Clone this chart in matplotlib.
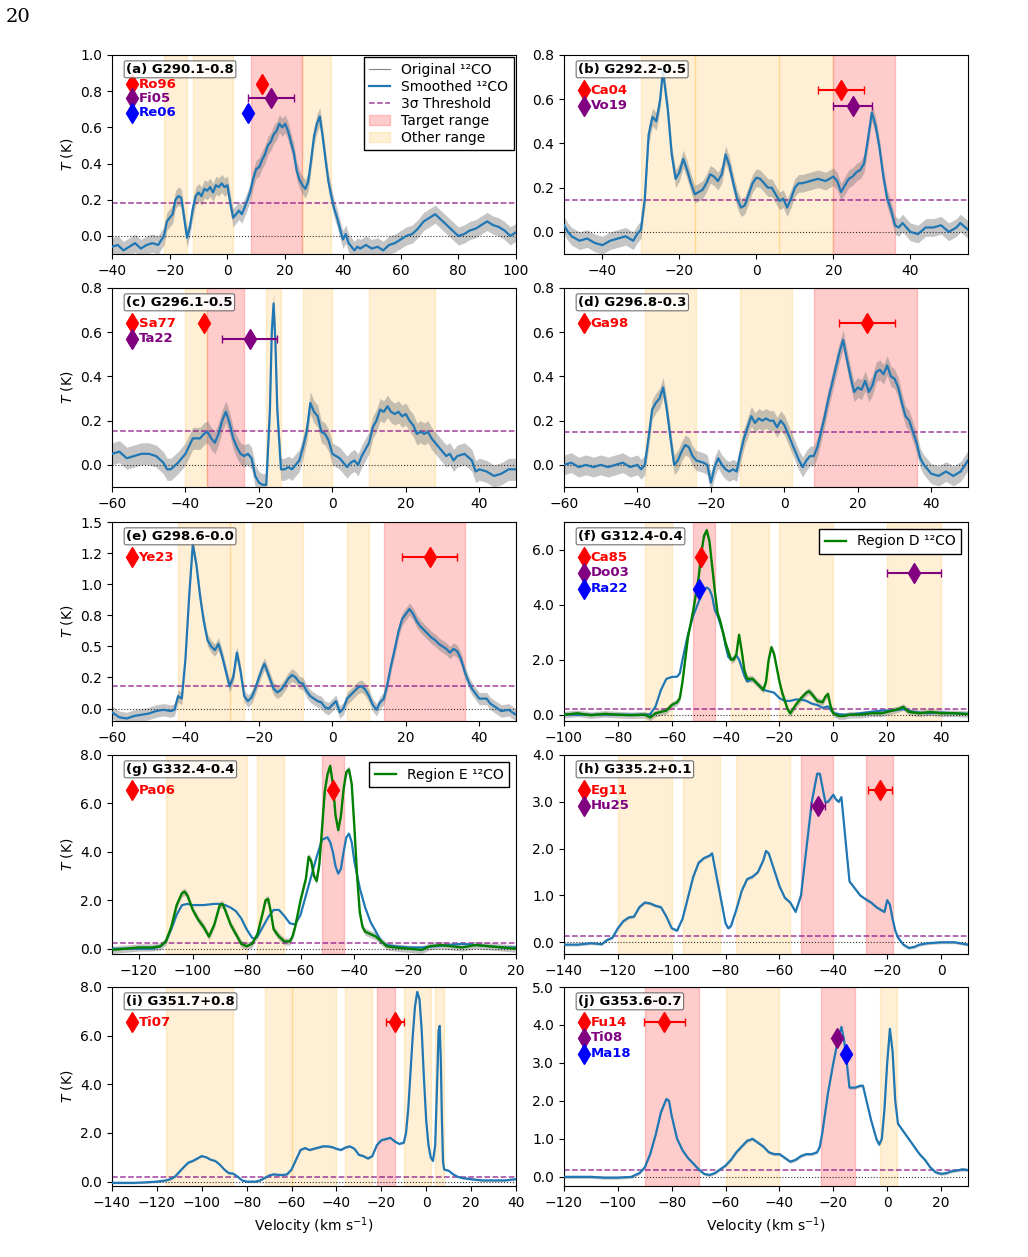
import matplotlib.pyplot as plt
from matplotlib.lines import Line2D
from matplotlib.patches import Patch
from matplotlib.ticker import MultipleLocator, FormatStrFormatter

# smoothed 12CO spectra, (velocity [km/s], T [K])
a_smooth = [(-40, -0.06), (-38, -0.05), (-36, -0.08), (-34, -0.06), (-32, -0.04), (-30, -0.07), (-28, -0.05),
            (-26, -0.04), (-24, -0.05), (-22, 0.0), (-21, 0.08), (-20, 0.10), (-19, 0.12), (-18, 0.20), (-17, 0.22),
            (-16, 0.21), (-15, 0.10), (-14, -0.01), (-13, 0.05), (-12, 0.15), (-11, 0.22), (-10, 0.24), (-9, 0.22),
            (-8, 0.26), (-7, 0.25), (-6, 0.27), (-5, 0.24), (-4, 0.28), (-3, 0.27), (-2, 0.29), (-1, 0.27), (0, 0.28),
            (1, 0.18), (2, 0.10), (3, 0.12), (4, 0.14), (5, 0.12), (6, 0.16), (7, 0.20), (8, 0.25), (9, 0.32),
            (10, 0.37), (11, 0.38), (12, 0.42), (13, 0.45), (14, 0.50), (15, 0.52), (16, 0.56), (17, 0.58), (18, 0.62),
            (19, 0.60), (20, 0.62), (21, 0.58), (22, 0.52), (23, 0.46), (24, 0.36), (25, 0.31), (26, 0.28), (27, 0.26),
            (28, 0.30), (29, 0.42), (30, 0.55), (31, 0.62), (32, 0.66), (33, 0.55), (34, 0.42), (35, 0.30), (36, 0.22),
            (37, 0.15), (38, 0.10), (39, 0.04), (40, -0.02), (41, 0.01), (42, -0.04), (43, -0.06), (44, -0.08),
            (45, -0.06), (46, -0.07), (48, -0.05), (50, -0.07), (52, -0.06), (54, -0.08), (56, -0.05), (58, -0.04),
            (60, -0.02), (62, 0.0), (64, 0.01), (66, 0.04), (68, 0.08), (70, 0.10), (72, 0.12), (74, 0.09), (76, 0.06),
            (78, 0.03), (80, 0.0), (82, 0.01), (84, 0.03), (86, 0.04), (88, 0.06), (90, 0.08), (92, 0.06), (94, 0.05),
            (96, 0.03), (98, 0.0), (100, 0.02)]
b_smooth = [(-50, 0.03), (-49, 0.0), (-48, -0.02), (-46, -0.04), (-44, -0.03), (-42, -0.05), (-40, -0.06),
            (-38, -0.04), (-36, -0.03), (-34, -0.02), (-32, -0.04), (-31, -0.01), (-30, 0.01), (-29, 0.15),
            (-28, 0.44), (-27, 0.52), (-26, 0.50), (-25, 0.60), (-24.3, 0.73), (-23, 0.55), (-22, 0.35), (-21, 0.24),
            (-20, 0.27), (-19, 0.33), (-18, 0.28), (-17, 0.22), (-16, 0.17), (-15, 0.18), (-14, 0.19), (-13, 0.22),
            (-12, 0.26), (-11, 0.25), (-10, 0.23), (-9, 0.26), (-8, 0.35), (-7, 0.30), (-6, 0.22), (-5, 0.15),
            (-4, 0.11), (-3, 0.12), (-2, 0.17), (-1, 0.22), (0, 0.245), (1, 0.24), (2, 0.22), (3, 0.20), (4, 0.20),
            (5, 0.17), (6, 0.14), (7, 0.15), (8, 0.11), (9, 0.15), (10, 0.20), (11, 0.22), (12, 0.22), (14, 0.23),
            (16, 0.24), (18, 0.23), (20, 0.25), (21, 0.23), (22, 0.18), (23, 0.21), (24, 0.24), (25, 0.25),
            (26, 0.27), (27, 0.28), (28, 0.31), (29, 0.42), (30, 0.54), (31, 0.48), (32, 0.38), (33, 0.25),
            (34, 0.15), (35, 0.10), (36, 0.03), (37, 0.02), (38, 0.04), (40, 0.0), (42, -0.01), (44, 0.02),
            (46, 0.02), (48, 0.03), (50, 0.0), (52, 0.02), (53, 0.04), (55, 0.01)]
c_smooth = [(-60, 0.05), (-58, 0.06), (-56, 0.03), (-54, 0.04), (-52, 0.05), (-50, 0.05), (-48, 0.04), (-46, 0.01),
            (-45, -0.02), (-44, -0.02), (-42, 0.01), (-40, 0.05), (-38, 0.12), (-36, 0.12), (-35, 0.14),
            (-34, 0.15), (-33, 0.12), (-32, 0.10), (-31, 0.14), (-30, 0.20), (-29, 0.24), (-28, 0.19), (-27, 0.12),
            (-26, 0.08), (-25, 0.05), (-24, 0.04), (-23, 0.05), (-22, 0.03), (-21, -0.05), (-20, -0.08),
            (-19, -0.09), (-18, -0.09), (-17, 0.25), (-16.5, 0.60), (-16, 0.73), (-15.5, 0.55), (-15, 0.25),
            (-14, -0.02), (-13, -0.02), (-12, -0.01), (-11, -0.02), (-10, 0.0), (-9, 0.02), (-8, 0.08), (-7, 0.15),
            (-6, 0.28), (-5, 0.24), (-4, 0.22), (-3, 0.15), (-2, 0.14), (-1, 0.11), (0, 0.05), (1, 0.04), (2, 0.03),
            (3, 0.01), (4, -0.01), (5, 0.01), (6, 0.02), (7, 0.0), (8, 0.04), (9, 0.07), (10, 0.10), (11, 0.17),
            (12, 0.20), (13, 0.25), (14, 0.24), (15, 0.265), (16, 0.24), (17, 0.23), (18, 0.24), (19, 0.22),
            (20, 0.23), (21, 0.20), (22, 0.18), (23, 0.14), (24, 0.15), (25, 0.14), (26, 0.15), (27, 0.12),
            (28, 0.10), (29, 0.08), (30, 0.06), (31, 0.04), (32, 0.05), (33, 0.02), (34, 0.04), (36, 0.05),
            (38, 0.02), (39, -0.03), (40, -0.02), (42, -0.03), (44, -0.05), (46, -0.04), (48, -0.02), (50, -0.02)]
d_smooth = [(-60, 0.0), (-58, 0.01), (-56, -0.01), (-54, 0.0), (-52, -0.01), (-50, 0.0), (-48, -0.01), (-46, 0.0),
            (-44, 0.01), (-42, -0.01), (-40, 0.0), (-39, -0.02), (-38, 0.0), (-37, 0.12), (-36, 0.25), (-35, 0.28),
            (-34, 0.30), (-33, 0.35), (-32, 0.25), (-31, 0.12), (-30, 0.0), (-29, 0.02), (-28, 0.06), (-27, 0.09),
            (-26, 0.08), (-25, 0.04), (-24, 0.02), (-22, 0.01), (-21, 0.0), (-20, -0.08), (-19, -0.01), (-18, 0.03),
            (-17, 0.0), (-16, -0.02), (-15, -0.03), (-14, -0.02), (-13, -0.03), (-12, 0.05), (-11, 0.12),
            (-10, 0.17), (-9, 0.22), (-8, 0.19), (-7, 0.21), (-6, 0.20), (-5, 0.21), (-4, 0.20), (-3, 0.20),
            (-2, 0.17), (-1, 0.20), (0, 0.18), (1, 0.14), (2, 0.10), (3, 0.06), (4, 0.02), (5, -0.01), (6, 0.02),
            (7, 0.04), (8, 0.04), (9, 0.08), (10, 0.15), (11, 0.22), (12, 0.30), (13, 0.37), (14, 0.44), (15, 0.51),
            (16, 0.565), (17, 0.48), (18, 0.40), (19, 0.33), (20, 0.35), (21, 0.34), (22, 0.38), (23, 0.33),
            (24, 0.36), (25, 0.42), (26, 0.43), (27, 0.41), (28, 0.45), (29, 0.40), (30, 0.39), (31, 0.35),
            (32, 0.28), (33, 0.22), (34, 0.20), (35, 0.15), (36, 0.10), (37, 0.03), (38, 0.0), (39, -0.02),
            (40, -0.04), (42, -0.05), (44, -0.03), (46, -0.05), (48, -0.03), (50, 0.02)]
e_smooth = [(-60, -0.03), (-58, -0.07), (-56, -0.08), (-54, -0.06), (-52, -0.05), (-50, -0.04), (-48, -0.02),
            (-46, -0.01), (-44, -0.02), (-43, -0.01), (-42, 0.10), (-41, 0.08), (-40, 0.40), (-39, 0.90),
            (-38, 1.32), (-37, 1.15), (-36, 0.90), (-35, 0.70), (-34, 0.55), (-33, 0.50), (-32, 0.47), (-31, 0.52),
            (-30, 0.42), (-29, 0.30), (-28, 0.18), (-27, 0.25), (-26, 0.45), (-25, 0.30), (-24, 0.10), (-23, 0.06),
            (-22, 0.09), (-21, 0.16), (-20, 0.25), (-19, 0.33), (-18.5, 0.36), (-17, 0.24), (-16, 0.16),
            (-15, 0.13), (-14, 0.15), (-13, 0.19), (-12, 0.24), (-11, 0.27), (-10, 0.25), (-9, 0.21), (-8, 0.20),
            (-7, 0.14), (-6, 0.10), (-5, 0.08), (-4, 0.06), (-3, 0.05), (-2, 0.01), (-1, 0.0), (0, 0.03), (1, 0.06),
            (2, -0.03), (3, 0.0), (4, 0.08), (5, 0.11), (6, 0.14), (7, 0.17), (8, 0.18), (9, 0.15), (10, 0.10),
            (11, 0.03), (12, -0.01), (13, 0.05), (14, 0.08), (15, 0.20), (16, 0.35), (17, 0.48), (18, 0.62),
            (19, 0.72), (20, 0.76), (21, 0.80), (22, 0.76), (23, 0.70), (24, 0.66), (25, 0.63), (26, 0.60),
            (27, 0.57), (28, 0.55), (29, 0.52), (30, 0.50), (31, 0.48), (32, 0.45), (33, 0.48), (34, 0.46),
            (35, 0.40), (36, 0.30), (37, 0.22), (38, 0.16), (39, 0.12), (40, 0.08), (42, 0.08), (43, 0.04),
            (44, 0.02), (46, -0.02), (48, -0.01), (50, -0.05)]
f_smooth = [(-100, 0.0), (-90, 0.0), (-80, 0.0), (-70, 0.0), (-68, 0.02), (-66, 0.3), (-65, 0.6), (-64, 0.9),
            (-62, 1.3), (-60, 1.37), (-58, 1.38), (-57, 1.5), (-56, 2.0), (-54, 2.9), (-52, 3.6), (-50, 4.1),
            (-48, 4.55), (-47, 4.62), (-46, 4.55), (-45, 4.3), (-44, 3.8), (-43, 3.6), (-42, 3.3), (-41, 3.0),
            (-40, 2.5), (-39, 2.1), (-38, 2.0), (-37, 2.05), (-36, 2.15), (-35, 2.0), (-34, 1.7), (-33, 1.4),
            (-32, 1.2), (-31, 1.25), (-30, 1.3), (-29, 1.2), (-28, 1.1), (-27, 1.0), (-26, 0.9), (-24, 0.85),
            (-22, 0.8), (-20, 0.6), (-18, 0.5), (-16, 0.5), (-14, 0.55), (-12, 0.55), (-10, 0.5), (-8, 0.4),
            (-6, 0.35), (-4, 0.25), (-2, 0.3), (0, 0.05), (2, 0.02), (4, 0.0), (6, 0.0), (10, 0.05), (14, 0.1),
            (18, 0.15), (22, 0.15), (26, 0.2), (30, 0.1), (35, 0.05), (40, 0.08), (45, 0.05), (50, 0.03)]
f_region = [(-100, 0.0), (-95, 0.05), (-90, -0.02), (-85, 0.03), (-80, 0.0), (-75, -0.02), (-70, 0.0),
            (-68, -0.1), (-66, 0.05), (-64, 0.1), (-62, 0.15), (-60, 0.35), (-58, 0.45), (-57, 0.6), (-56, 1.2),
            (-55, 2.0), (-54, 2.8), (-52, 3.8), (-50, 5.0), (-49, 5.9), (-48, 6.5), (-47, 6.7), (-46, 6.3),
            (-45, 5.4), (-44, 4.5), (-43, 3.7), (-42, 3.4), (-41, 3.0), (-40, 2.6), (-39, 2.3), (-38, 2.0),
            (-37, 2.0), (-36, 2.2), (-35, 2.9), (-34, 2.3), (-33, 1.6), (-32, 1.3), (-30, 1.3), (-29, 1.2),
            (-28, 1.1), (-27, 1.0), (-26, 0.9), (-25, 1.2), (-24, 2.0), (-23, 2.45), (-22, 2.2), (-21, 1.7),
            (-20, 1.2), (-19, 0.8), (-18, 0.5), (-17, 0.2), (-16, 0.05), (-15, 0.2), (-14, 0.35), (-12, 0.6),
            (-10, 0.8), (-9, 0.85), (-8, 0.75), (-6, 0.5), (-4, 0.45), (-3, 0.65), (-2, 0.75), (-1, 0.3), (0, 0.05),
            (2, -0.05), (4, -0.05), (6, 0.0), (10, 0.0), (14, 0.05), (18, 0.05), (22, 0.15), (24, 0.2), (26, 0.28),
            (28, 0.1), (32, 0.05), (36, 0.1), (40, 0.05), (45, 0.05), (50, 0.02)]
g_smooth = [(-130, 0.0), (-115, 0.0), (-112, 0.1), (-110, 0.3), (-108, 0.8), (-106, 1.4), (-104, 1.8),
            (-102, 1.85), (-100, 1.8), (-96, 1.8), (-92, 1.85), (-90, 1.85), (-88, 1.8), (-86, 1.7), (-84, 1.55),
            (-82, 1.25), (-80, 0.8), (-78, 0.45), (-77, 0.4), (-76, 0.5), (-74, 0.9), (-72, 1.3), (-70, 1.6),
            (-68, 1.6), (-66, 1.35), (-64, 1.05), (-62, 1.0), (-60, 1.4), (-58, 2.2), (-56, 3.0), (-54, 3.8),
            (-52, 4.5), (-50, 4.6), (-49, 4.4), (-48, 4.0), (-47, 3.4), (-46, 3.1), (-45, 3.3), (-44, 4.0),
            (-43, 4.6), (-42, 4.75), (-41, 4.4), (-40, 3.6), (-38, 2.5), (-36, 1.7), (-34, 1.1), (-32, 0.7),
            (-30, 0.3), (-28, 0.15), (-25, 0.1), (-20, 0.05), (-15, 0.05), (-10, 0.1), (-5, 0.15), (0, 0.2),
            (5, 0.15), (10, 0.1), (15, 0.05), (20, 0.05)]
g_region = [(-130, -0.05), (-125, 0.0), (-120, 0.05), (-115, 0.05), (-112, 0.1), (-110, 0.3), (-108, 0.9),
            (-106, 1.8), (-104, 2.3), (-103, 2.35), (-102, 2.2), (-100, 1.6), (-98, 1.2), (-96, 0.9), (-94, 0.5),
            (-92, 1.0), (-90, 1.8), (-89, 1.85), (-88, 1.6), (-86, 1.0), (-84, 0.6), (-82, 0.2), (-80, 0.1),
            (-78, 0.2), (-76, 0.6), (-74, 1.5), (-73, 2.0), (-72, 2.05), (-71, 1.5), (-70, 0.8), (-68, 0.5),
            (-66, 0.3), (-64, 0.3), (-63, 0.5), (-62, 0.9), (-60, 2.0), (-58, 2.9), (-57, 3.8), (-56, 3.6),
            (-55, 3.0), (-54, 2.8), (-53, 3.5), (-52, 5.0), (-51, 6.5), (-50, 7.2), (-49, 7.55), (-48, 6.8),
            (-47, 5.5), (-46, 4.9), (-45, 5.5), (-44, 6.6), (-43, 7.3), (-42, 7.4), (-41, 6.8), (-40, 5.0),
            (-39, 3.0), (-38, 1.5), (-37, 0.9), (-36, 0.7), (-34, 0.6), (-32, 0.5), (-30, 0.3), (-28, 0.1),
            (-25, 0.05), (-20, 0.0), (-15, -0.05), (-12, 0.1), (-8, 0.15), (-4, 0.1), (0, 0.05), (5, 0.15),
            (10, 0.1), (15, 0.05), (20, 0.0)]
h_smooth = [(-140, -0.05), (-135, -0.05), (-130, -0.02), (-126, -0.04), (-124, 0.05), (-122, 0.1), (-120, 0.3),
            (-118, 0.45), (-116, 0.53), (-114, 0.55), (-112, 0.75), (-110, 0.85), (-108, 0.83), (-106, 0.78),
            (-104, 0.75), (-102, 0.55), (-100, 0.3), (-98, 0.25), (-96, 0.5), (-94, 0.95), (-92, 1.4), (-90, 1.7),
            (-88, 1.8), (-86, 1.85), (-85, 1.9), (-84, 1.6), (-82, 1.0), (-80, 0.4), (-79, 0.3), (-78, 0.35),
            (-76, 0.7), (-74, 1.1), (-72, 1.35), (-70, 1.4), (-68, 1.5), (-66, 1.75), (-65, 1.95), (-64, 1.9),
            (-62, 1.55), (-60, 1.2), (-58, 0.95), (-56, 0.85), (-54, 0.65), (-52, 1.0), (-50, 2.0), (-48, 3.0),
            (-46, 3.6), (-45, 3.6), (-44, 3.3), (-43, 3.0), (-42, 3.0), (-40, 3.15), (-39, 3.05), (-38, 3.0),
            (-37, 3.1), (-36, 2.5), (-34, 1.3), (-32, 1.15), (-30, 1.0), (-28, 0.92), (-26, 0.85), (-24, 0.75),
            (-22, 0.68), (-21, 0.65), (-20, 0.9), (-19, 0.8), (-18, 0.5), (-17, 0.25), (-16, 0.1), (-14, -0.05),
            (-12, -0.12), (-10, -0.1), (-8, -0.05), (-5, -0.02), (0, 0.0), (5, 0.0), (10, -0.05)]
i_smooth = [(-140, -0.05), (-130, -0.05), (-125, -0.03), (-120, 0.0), (-116, 0.05), (-114, 0.1), (-112, 0.2),
            (-110, 0.4), (-108, 0.6), (-106, 0.78), (-104, 0.85), (-102, 0.95), (-100, 1.05), (-98, 1.0),
            (-96, 0.9), (-94, 0.85), (-92, 0.7), (-90, 0.5), (-88, 0.35), (-86, 0.33), (-84, 0.2), (-82, 0.05),
            (-80, 0.0), (-76, 0.0), (-74, 0.05), (-72, 0.15), (-70, 0.25), (-68, 0.3), (-66, 0.28), (-64, 0.27),
            (-62, 0.3), (-60, 0.5), (-58, 0.9), (-56, 1.3), (-54, 1.38), (-52, 1.3), (-50, 1.35), (-48, 1.4),
            (-46, 1.45), (-44, 1.45), (-42, 1.42), (-40, 1.35), (-38, 1.3), (-36, 1.4), (-34, 1.45), (-32, 1.35),
            (-30, 1.1), (-28, 1.05), (-26, 0.95), (-24, 1.05), (-22, 1.5), (-20, 1.7), (-18, 1.75), (-16, 1.8),
            (-14, 1.65), (-12, 1.55), (-10, 1.6), (-9, 2.0), (-8, 3.0), (-7, 4.5), (-6, 6.0), (-5, 7.2), (-4, 7.8),
            (-3, 7.5), (-2, 6.2), (-1, 4.2), (0, 2.5), (1, 1.5), (2, 1.0), (3, 0.85), (4, 1.5), (5, 4.5),
            (5.5, 6.2), (6, 6.4), (6.5, 5.0), (7, 2.5), (7.5, 0.8), (8, 0.5), (10, 0.45), (12, 0.3), (14, 0.2),
            (16, 0.15), (20, 0.1), (25, 0.05), (30, 0.05), (35, 0.05), (40, 0.1)]
j_smooth = [(-120, 0.0), (-115, 0.0), (-110, 0.0), (-105, -0.02), (-100, -0.02), (-95, 0.0), (-92, 0.1),
            (-90, 0.25), (-88, 0.6), (-86, 1.1), (-84, 1.7), (-82, 2.05), (-81, 2.0), (-80, 1.6), (-78, 1.0),
            (-76, 0.7), (-74, 0.5), (-72, 0.35), (-70, 0.2), (-68, 0.08), (-66, 0.05), (-64, 0.1), (-62, 0.2),
            (-60, 0.3), (-58, 0.45), (-56, 0.65), (-54, 0.8), (-52, 0.95), (-50, 1.0), (-48, 0.9), (-46, 0.8),
            (-44, 0.65), (-42, 0.6), (-40, 0.6), (-38, 0.5), (-36, 0.4), (-34, 0.45), (-32, 0.55), (-30, 0.6),
            (-28, 0.6), (-26, 0.65), (-25, 0.8), (-24, 1.2), (-22, 2.2), (-20, 3.0), (-18, 3.7), (-17, 3.95),
            (-16, 3.6), (-15, 3.0), (-14, 2.35), (-12, 2.35), (-10, 2.4), (-9, 2.4), (-8, 2.1), (-6, 1.5),
            (-4, 1.0), (-3, 0.85), (-2, 1.0), (-1, 1.8), (0, 3.0), (1, 3.9), (2, 3.3), (3, 2.0), (4, 1.4),
            (6, 1.2), (8, 1.0), (10, 0.8), (12, 0.6), (14, 0.45), (16, 0.25), (18, 0.12), (20, 0.08), (22, 0.1),
            (24, 0.15), (26, 0.17), (28, 0.2), (30, 0.18)]

# spread of the unsmoothed spectrum around its smoothed version (K)
noise = [0.05, 0.04, 0.05, 0.045, 0.05, 0.12, 0.15, 0.03, 0.04, 0.04]

names = ["(a) G290.1-0.8", "(b) G292.2-0.5", "(c) G296.1-0.5", "(d) G296.8-0.3", "(e) G298.6-0.0",
         "(f) G312.4-0.4", "(g) G332.4-0.4", "(h) G335.2+0.1", "(i) G351.7+0.8", "(j) G353.6-0.7"]
thresholds = [0.18, 0.145, 0.155, 0.15, 0.18, 0.22, 0.22, 0.13, 0.18, 0.17]
target_ranges = [[(8, 26)], [(20, 36)], [(-34, -24)], [(8, 36)], [(14, 36)], [(-52, -44)], [(-52, -44)],
                 [(-52, -40), (-28, -18)], [(-22, -14)], [(-90, -70), (-24.5, -12)]]
other_ranges = [[(-22, -14), (-12, 2), (26, 36)],
                [(-30, -16), (-16, 6), (6, 20)],
                [(-40, -34), (-18, -14), (-8, 0), (10, 28)],
                [(-38, -24), (-12, 2)],
                [(-42, -28), (-28, -24), (-22, -8), (4, 10)],
                [(-70, -60), (-38, -24), (-20, 0), (20, 40)],
                [(-110, -80), (-76, -66)],
                [(-120, -100), (-96, -82), (-76, -56)],
                [(-116, -86), (-72, -60), (-60, -40), (-36, -24), (-10, 2), (4, 8)],
                [(-60, -40), (-2.5, 3.5)]]
# literature systemic velocities: (reference, colour, v, error)
refs = [[("Ro96", "red", 12, 0), ("Fi05", "purple", 15, 8), ("Re06", "blue", 7, 0)],
        [("Ca04", "red", 22, 6), ("Vo19", "purple", 25, 5)],
        [("Sa77", "red", -35, 0), ("Ta22", "purple", -22.5, 7.5)],
        [("Ga98", "red", 22.5, 7.5)],
        [("Ye23", "red", 26.5, 7.5)],
        [("Ca85", "red", -49, 0), ("Do03", "purple", 30, 10), ("Ra22", "blue", -50, 0)],
        [("Pa06", "red", -48, 0)],
        [("Eg11", "red", -22.8, 4.5), ("Hu25", "purple", -45.7, 2.5)],
        [("Ti07", "red", -14, 4)],
        [("Fu14", "red", -82.7, 7.6), ("Ti08", "purple", -18.5, 0), ("Ma18", "blue", -15.4, 0)]]

spectra = [a_smooth, b_smooth, c_smooth, d_smooth, e_smooth, f_smooth, g_smooth, h_smooth, i_smooth, j_smooth]
regions = {5: (f_region, "Region D ¹²CO"), 6: (g_region, "Region E ¹²CO")}

xlims = [(-40, 100), (-50, 55), (-60, 50), (-60, 50), (-60, 50), (-100, 50), (-130, 20), (-140, 10),
         (-140, 40), (-120, 30)]
ylims = [(-0.1, 1.0), (-0.1, 0.8), (-0.1, 0.8), (-0.1, 0.8), (-0.1, 1.5), (-0.23, 7.0), (-0.22, 8.0),
         (-0.25, 4.0), (-0.18, 8.0), (-0.24, 5.0)]
ysteps = [0.2, 0.2, 0.2, 0.2, 0.25, 2, 2, 1, 2, 1]

W, H = 1028, 1257
fig = plt.figure(figsize=(W / 100, H / 100), dpi=100)
fig.text(0.006, 0.994, "20", fontsize=14, family="DejaVu Serif", va="top")

col_left = [112, 564]
row_top = [55, 288, 522, 755, 987]
ax_w, ax_h = 404, 199

for k in range(10):
    r, c = divmod(k, 2)
    ax = fig.add_axes([col_left[c] / W, 1 - (row_top[r] + ax_h) / H, ax_w / W, ax_h / H])
    y0, y1 = ylims[k]

    for lo, hi in other_ranges[k]:
        ax.axvspan(lo, hi, color="orange", alpha=0.17, zorder=0)
    for lo, hi in target_ranges[k]:
        ax.axvspan(lo, hi, color="red", alpha=0.2, zorder=0)

    v = [p[0] for p in spectra[k]]
    t = [p[1] for p in spectra[k]]
    if k in regions:
        rv = [p[0] for p in regions[k][0]]
        rt = [p[1] for p in regions[k][0]]
        ax.fill_between(rv, [x - noise[k] for x in rt], [x + noise[k] for x in rt],
                        color="grey", alpha=0.45, lw=0, zorder=1)
        ax.plot(v, t, color="#1f77b4", lw=1.6, zorder=3)
        ax.plot(rv, rt, color="green", lw=1.7, zorder=4, label=regions[k][1])
        ax.legend(loc="upper right", fancybox=False, edgecolor="black", framealpha=1,
                  fontsize=10, handlelength=1.5)
    else:
        ax.fill_between(v, [x - noise[k] for x in t], [x + noise[k] for x in t],
                        color="grey", alpha=0.45, lw=0, zorder=1)
        ax.plot(v, t, color="#1f77b4", lw=1.6, zorder=3)

    ax.axhline(thresholds[k], color="purple", ls="--", lw=1.1, alpha=0.75, zorder=2)
    ax.axhline(0, color="black", ls=":", lw=0.8, alpha=0.8, zorder=2)

    levels = [0.853, 0.782, 0.71] if k == 0 else [0.824, 0.744, 0.664]
    for (lab, col, vel, err), lv in zip(refs[k], levels):
        yd = y0 + lv * (y1 - y0)
        ax.plot(0.05, lv, "d", color=col, ms=10, transform=ax.transAxes, zorder=6)
        ax.text(0.066, lv, lab, color=col, fontsize=9.5, fontweight="bold", va="center",
                transform=ax.transAxes, zorder=6)
        ax.errorbar(vel, yd, xerr=err if err else None, fmt="d", color=col, ms=10,
                    elinewidth=1.5, capsize=3, zorder=6)

    ax.text(0.035, 0.928, names[k], transform=ax.transAxes, fontsize=9.5, fontweight="bold",
            va="center", zorder=7,
            bbox=dict(boxstyle="round,pad=0.15", fc="white", ec="0.35", lw=0.8, alpha=0.85))

    ax.set_xlim(*xlims[k])
    ax.set_ylim(y0, y1)
    ax.xaxis.set_major_locator(MultipleLocator(20))
    ax.yaxis.set_major_locator(MultipleLocator(ysteps[k]))
    ax.yaxis.set_major_formatter(FormatStrFormatter("%.1f"))
    if c == 0:
        ax.set_ylabel("$T$ (K)")
    if r == 4:
        ax.set_xlabel("Velocity (km s$^{-1}$)")

    if k == 0:
        handles = [Line2D([], [], color="grey", lw=0.8),
                   Line2D([], [], color="#1f77b4", lw=1.6),
                   Line2D([], [], color="purple", ls="--", lw=1.1, alpha=0.75),
                   Patch(facecolor="red", edgecolor="red", alpha=0.2),
                   Patch(facecolor="orange", edgecolor="orange", alpha=0.17)]
        labels = ["Original ¹²CO", "Smoothed ¹²CO", "3σ Threshold", "Target range", "Other range"]
        ax.legend(handles, labels, loc="upper right", fancybox=False, edgecolor="black",
                  framealpha=1, fontsize=10, borderaxespad=0.15, labelspacing=0.22,
                  handlelength=1.5)

fig.savefig("out.png", dpi=100)
